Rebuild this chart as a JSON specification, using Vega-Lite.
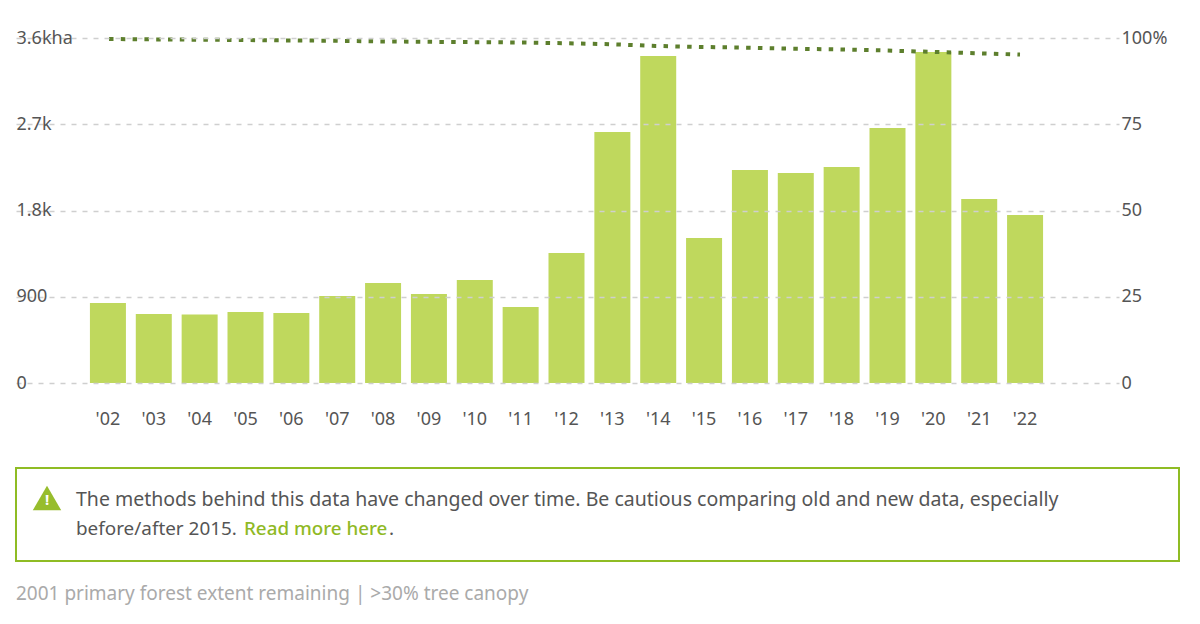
{
"$schema":"https://vega.github.io/schema/vega-lite/v6.json",
"padding":{"left":15,"top":29,"right":0,"bottom":0},
"background":"white",
"spacing":39,
"bounds":"full",
"config":{"font":"Noto Sans","view":{"stroke":null},"text":{"font":"Noto Sans"},"axis":{"labelFont":"Noto Sans"}},
"datasets":{"years":[
{"year":"'02","loss":835,"extent":99.7},{"year":"'03","loss":720,"extent":99.6},{"year":"'04","loss":715,"extent":99.5},{"year":"'05","loss":741,"extent":99.4},{"year":"'06","loss":730,"extent":99.3},{"year":"'07","loss":908,"extent":99.2},{"year":"'08","loss":1043,"extent":99.0},{"year":"'09","loss":929,"extent":98.9},{"year":"'10","loss":1075,"extent":98.8},{"year":"'11","loss":793,"extent":98.7},{"year":"'12","loss":1357,"extent":98.5},{"year":"'13","loss":2619,"extent":98.2},{"year":"'14","loss":3412,"extent":97.7},{"year":"'15","loss":1513,"extent":97.4},{"year":"'16","loss":2223,"extent":97.2},{"year":"'17","loss":2191,"extent":96.9},{"year":"'18","loss":2254,"extent":96.7},{"year":"'19","loss":2661,"extent":96.4},{"year":"'20","loss":3454,"extent":96.0},{"year":"'21","loss":1920,"extent":95.6},{"year":"'22","loss":1753,"extent":95.2}]},
"vconcat":[
{"width":1103,"height":345,
 "layer":[
  {"data":{"values":[{"v":3600,"label":"3.6kha"},{"v":2700,"label":"2.7k"},{"v":1800,"label":"1.8k"},{"v":900,"label":"900"},{"v":0,"label":"0"}]},
   "mark":{"type":"text","align":"left","baseline":"middle","fontSize":18,"dx":2,"fill":"white","stroke":"white","strokeWidth":4},
   "encoding":{"x":{"datum":0,"type":"quantitative","scale":{"domain":[0,1],"nice":false},"axis":null},
    "y":{"field":"v","type":"quantitative","title":null,"scale":{"domain":[0,3600],"nice":false},
      "axis":{"orient":"left","values":[0,900,1800,2700,3600],"labelExpr":"datum.value==3600?'3.6kha':datum.value==2700?'2.7k':datum.value==1800?'1.8k':datum.value==900?'900':'0'","grid":true,"gridColor":"#cfcfcf","gridDash":[5,6],"gridWidth":1.5,"domain":false,"ticks":false,"labelAlign":"left","labelPadding":0,"labelFontSize":18,"labelColor":"#555555","zindex":1}},
    "text":{"field":"label"}}},
  {"data":{"name":"years"},"mark":{"type":"bar","color":"#bfd85d"},
   "encoding":{
    "x":{"field":"year","type":"nominal","sort":null,"title":null,
      "scale":{"type":"band","range":[69,1032],"paddingInner":0.215,"paddingOuter":0.1075},
      "axis":{"domain":false,"ticks":false,"labelAngle":0,"labelFontSize":18,"labelColor":"#555555","labelPadding":27}},
    "y":{"field":"loss","type":"quantitative","title":null,"scale":{"domain":[0,3600],"nice":false},"axis":null}}},
  {"data":{"name":"years"},"mark":{"type":"line","color":"#5d7f2d","strokeWidth":4,"strokeDash":[4.5,7.3]},
   "encoding":{
    "x":{"field":"year","type":"ordinal","sort":null,"axis":null,"scale":{"type":"point","range":[93,1004],"padding":0}},
    "y":{"field":"extent","type":"quantitative","title":null,"scale":{"domain":[0,100],"nice":false},
      "axis":{"orient":"right","values":[0,25,50,75,100],"labelExpr":"datum.value==100?'100%':datum.label","grid":false,"domain":false,"ticks":false,"labelPadding":2,"labelFontSize":18,"labelColor":"#555555"}}}}
 ],
 "resolve":{"scale":{"x":"independent","y":"independent"},"axis":{"y":"independent","x":"independent"}}
},
{"width":1163,"height":93,"view":{"stroke":"#8fbc24","strokeWidth":2,"fill":"white"},
 "layer":[
  {"data":{"values":[{"kind":"warning"}]},"mark":{"type":"point","shape":"triangle-up","filled":true,"color":"#97bd2d","opacity":1,"size":810},
   "encoding":{"x":{"datum":31,"type":"quantitative","scale":{"domain":[0,1163],"nice":false},"axis":null},"y":{"datum":30,"type":"quantitative","scale":{"domain":[0,93],"nice":false,"reverse":true},"axis":null}}},
  {"data":{"values":[{"t":"!"}]},"mark":{"type":"text","color":"white","fontWeight":"bold","fontSize":15,"baseline":"middle"},
   "encoding":{"x":{"datum":31,"type":"quantitative"},"y":{"datum":32,"type":"quantitative"},"text":{"field":"t"}}},
  {"data":{"values":[{"t":"The methods behind this data have changed over time. Be cautious comparing old and new data, especially"}]},"mark":{"type":"text","align":"left","baseline":"middle","fontSize":19.5,"color":"#555555"},
   "encoding":{"x":{"datum":60,"type":"quantitative"},"y":{"datum":32,"type":"quantitative"},"text":{"field":"t"}}},
  {"data":{"values":[{"t":"before/after 2015."}]},"mark":{"type":"text","align":"left","baseline":"middle","fontSize":18.9,"color":"#555555"},
   "encoding":{"x":{"datum":60,"type":"quantitative"},"y":{"datum":61,"type":"quantitative"},"text":{"field":"t"}}},
  {"data":{"values":[{"t":"Read more here"}]},"mark":{"type":"text","align":"left","baseline":"middle","fontSize":18.8,"fontWeight":500,"color":"#8fb925"},
   "encoding":{"x":{"datum":228,"type":"quantitative"},"y":{"datum":61,"type":"quantitative"},"text":{"field":"t"}}},
  {"data":{"values":[{"t":"."}]},"mark":{"type":"text","align":"left","baseline":"middle","fontSize":18.9,"color":"#555555"},
   "encoding":{"x":{"datum":373,"type":"quantitative"},"y":{"datum":61,"type":"quantitative"},"text":{"field":"t"}}},
  {"data":{"values":[{"t":"2001 primary forest extent remaining | >30% tree canopy"}]},"mark":{"type":"text","align":"left","baseline":"middle","fontSize":19,"color":"#aaaaaa"},
   "encoding":{"x":{"datum":0,"type":"quantitative"},"y":{"datum":126,"type":"quantitative"},"text":{"field":"t"}}}
 ]
}
]
}
